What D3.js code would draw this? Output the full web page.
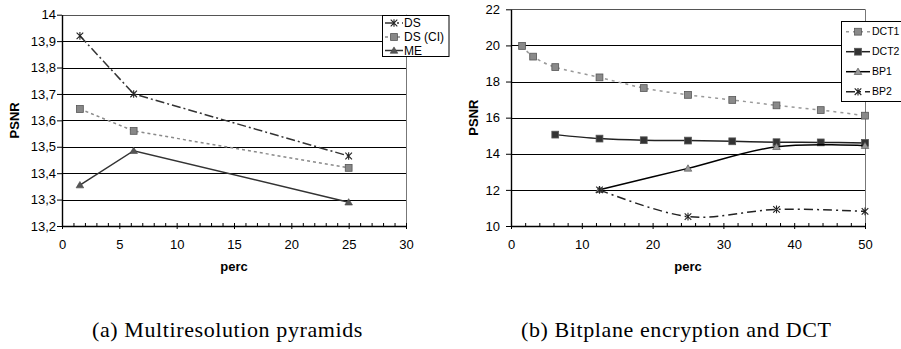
<!DOCTYPE html>
<html>
  <head>
    <meta charset="utf-8" />
    <title>PSNR vs perc</title>
    <script src="https://d3js.org/d3.v7.min.js"></script>
    <style>
        body {
            margin: 0;
            background: #fff;
        }
        text {
            font-family: "Liberation Sans", Arial, sans-serif;
        }
        .caption {
            font-family: "Liberation Serif", "Times New Roman", serif;
            font-size: 22px;
            letter-spacing: 0.6px;
        }
    </style>
  </head>
  <body>
    <svg id="chart"></svg>

    <script>
        // (a) multiresolution pyramids
        var percA = [1.5625, 6.25, 25];
        var dsA = [13.92, 13.70, 13.465];
        var dsCiA = [13.643, 13.56, 13.42];
        var meA = [13.355, 13.485, 13.29];
        var xTicksA = [0, 5, 10, 15, 20, 25, 30];
        var yTicksA = [13.2, 13.3, 13.4, 13.5, 13.6, 13.7, 13.8, 13.9, 14];

        // (b) bitplane encryption and DCT
        var percDct1 = [1.5625, 3.125, 6.25, 12.5, 18.75, 25, 31.25, 37.5, 43.75, 50];
        var dct1 = [19.97, 19.38, 18.8, 18.23, 17.64, 17.26, 16.98, 16.68, 16.42, 16.11];
        var percDct2 = [6.25, 12.5, 18.75, 25, 31.25, 37.5, 43.75, 50];
        var dct2 = [15.06, 14.84, 14.75, 14.73, 14.69, 14.64, 14.63, 14.6];
        var percBp = [12.5, 25, 37.5, 50];
        var bp1 = [12.01, 13.19, 14.39, 14.45];
        var bp2 = [12.0, 10.52, 10.92, 10.81];
        var xTicksB = [0, 10, 20, 30, 40, 50];
        var yTicksB = [10, 12, 14, 16, 18, 20, 22];

        var captions = ["(a) Multiresolution pyramids", "(b) Bitplane encryption and DCT"];

        var width = 901, height = 349;
        var svg = d3.select("#chart").attr("width", width).attr("height", height);
        var defs = svg.append("defs");

        function zip(xs, ys) {
            return xs.map(function(x, i) { return [x, ys[i]]; });
        }

        // marker drawing
        function drawMarker(g, type, x, y, color) {
            if (type == "square") {
                g.append("rect").attr("x", x - 3.4).attr("y", y - 3.4)
                    .attr("width", 6.8).attr("height", 6.8)
                    .attr("fill", color).attr("stroke", "#555").attr("stroke-width", 0.8);
            } else if (type == "triangle") {
                g.append("path")
                    .attr("d", "M" + x + "," + (y - 3.6) + "L" + (x + 3.8) + "," + (y + 2.8) + "L" + (x - 3.8) + "," + (y + 2.8) + "Z")
                    .attr("fill", color).attr("stroke", "#444").attr("stroke-width", 0.6);
            } else if (type == "star") {
                var r = 3.3;
                g.append("path")
                    .attr("d", "M" + (x - r) + "," + (y - r) + "L" + (x + r) + "," + (y + r) +
                               "M" + (x - r) + "," + (y + r) + "L" + (x + r) + "," + (y - r) +
                               "M" + x + "," + (y - r - 0.5) + "L" + x + "," + (y + r + 0.5))
                    .attr("fill", "none").attr("stroke", color).attr("stroke-width", 1.1);
            }
        }

        function drawPanel(p) {
            defs.append("clipPath").attr("id", p.id)
                .append("rect").attr("x", p.clip[0]).attr("y", 0)
                .attr("width", p.clip[1] - p.clip[0]).attr("height", height);

            var g = svg.append("g").attr("clip-path", "url(#" + p.id + ")");

            var x = d3.scaleLinear().domain(p.xDomain).range(p.xRange);
            var y = d3.scaleLinear().domain(p.yDomain).range(p.yRange);

            // gridlines
            g.append("g").selectAll("line")
                .data(p.yTicks.slice(1))
                .enter().append("line")
                .attr("x1", p.xRange[0]).attr("x2", p.xRange[1])
                .attr("y1", function(d) { return Math.round(y(d)) + 0.5; })
                .attr("y2", function(d) { return Math.round(y(d)) + 0.5; })
                .attr("stroke", function(d, i) { return i == p.yTicks.length - 2 ? "#555" : "#000"; })
                .attr("stroke-width", 1);

            // right border
            g.append("line")
                .attr("x1", Math.round(p.xRange[1]) + 0.5).attr("x2", Math.round(p.xRange[1]) + 0.5)
                .attr("y1", p.yRange[1]).attr("y2", p.yRange[0])
                .attr("stroke", "#777").attr("stroke-width", 1);

            // x axis: minor ticks inside, major ticks outside + labels
            var xMinor = d3.axisBottom(x).ticks(p.minorCount).tickSize(-3).tickFormat("");
            g.append("g")
                .attr("transform", "translate(0," + p.yRange[0] + ")")
                .call(xMinor)
                .call(function(a) { a.select(".domain").remove(); });

            var xAxis = d3.axisBottom(x).tickValues(p.xTicks).tickSize(3).tickPadding(11).tickSizeOuter(0);
            var xg = g.append("g")
                .attr("transform", "translate(0," + p.yRange[0] + ")")
                .call(xAxis);
            xg.selectAll("text").attr("font-size", 13).attr("font-family", "Liberation Sans, Arial, sans-serif");

            var yAxis = d3.axisLeft(y).tickValues(p.yTicks).tickSize(5).tickPadding(p.yPad).tickSizeOuter(0)
                .tickFormat(p.yFormat);
            var yg = g.append("g")
                .attr("transform", "translate(" + p.xRange[0] + ",0)")
                .call(yAxis);
            yg.selectAll("text").attr("font-size", 13).attr("font-family", "Liberation Sans, Arial, sans-serif");

            g.selectAll(".domain").attr("stroke", "#000").attr("stroke-width", 1.4);
            g.selectAll(".tick line").attr("stroke", "#000");

            // axis titles
            g.append("text")
                .attr("transform", "translate(" + p.yTitleX + "," + ((p.yRange[0] + p.yRange[1]) / 2) + ") rotate(-90)")
                .attr("text-anchor", "middle").attr("dy", "0.35em")
                .attr("font-size", 13).attr("font-weight", "bold")
                .text("PSNR");
            g.append("text")
                .attr("x", (p.xRange[0] + p.xRange[1]) / 2).attr("y", 271)
                .attr("text-anchor", "middle")
                .attr("font-size", 13).attr("font-weight", "bold")
                .text("perc");

            // series
            p.series.forEach(function(s) {
                var line = d3.line()
                    .x(function(d) { return x(d[0]); })
                    .y(function(d) { return y(d[1]); })
                    .curve(p.smooth ? d3.curveCardinal.tension(0) : d3.curveLinear);
                g.append("path")
                    .datum(zip(s.xs, s.ys))
                    .attr("d", line)
                    .attr("fill", "none")
                    .attr("stroke", s.color)
                    .attr("stroke-width", s.width)
                    .attr("stroke-dasharray", s.dash);
                var mg = g.append("g");
                s.xs.forEach(function(v, i) {
                    drawMarker(mg, s.marker, x(v), y(s.ys[i]), s.markerColor);
                });
            });

            // legend
            var L = p.legend;
            g.append("rect")
                .attr("x", L.x).attr("y", L.y).attr("width", L.w).attr("height", L.h)
                .attr("fill", "#fff").attr("stroke", "#000").attr("stroke-width", 1);
            p.series.forEach(function(s, i) {
                var ly = L.rows[i];
                g.append("line")
                    .attr("x1", L.line[0]).attr("x2", L.line[1])
                    .attr("y1", ly).attr("y2", ly)
                    .attr("stroke", s.color).attr("stroke-width", s.width)
                    .attr("stroke-dasharray", s.dash);
                drawMarker(g, s.marker, L.mark, ly, s.markerColor);
                g.append("text")
                    .attr("x", L.textX).attr("y", ly).attr("dy", "0.35em")
                    .attr("font-size", L.font)
                    .text(s.name);
            });

            // caption
            svg.append("text")
                .attr("class", "caption")
                .attr("x", p.captionX).attr("y", 337)
                .text(p.caption);
        }

        var commaFmt = function(d) { return d3.format(".1f")(d).replace(".", ","); };

        drawPanel({
            id: "clipA",
            clip: [0, 450],
            xDomain: [0, 30], xRange: [62, 406],
            yDomain: [13.2, 14], yRange: [226, 14.7],
            xTicks: xTicksA, yTicks: yTicksA, minorCount: 30,
            yFormat: function(d) { return d == 14 ? "14" : commaFmt(d); },
            yPad: 1, yTitleX: 14.5,
            smooth: false,
            series: [
                {name: "DS", xs: percA, ys: dsA, color: "#333", width: 1.5, dash: "9,3,2,3", marker: "star", markerColor: "#222"},
                {name: "DS (CI)", xs: percA, ys: dsCiA, color: "#8a8a8a", width: 1.5, dash: "3,3", marker: "square", markerColor: "#888"},
                {name: "ME", xs: percA, ys: meA, color: "#333", width: 1.5, dash: null, marker: "triangle", markerColor: "#555"}
            ],
            legend: {x: 382.5, y: 15.5, w: 66.5, h: 41, rows: [23, 37, 50.5], line: [385, 403], mark: 394, textX: 404, font: 12},
            caption: captions[0], captionX: 92
        });

        drawPanel({
            id: "clipB",
            clip: [450, 901],
            xDomain: [0, 50], xRange: [511, 865],
            yDomain: [10, 22], yRange: [226, 9.3],
            xTicks: xTicksB, yTicks: yTicksB, minorCount: 25,
            yFormat: d3.format("d"),
            yPad: 6, yTitleX: 473,
            smooth: true,
            series: [
                {name: "DCT1", xs: percDct1, ys: dct1, color: "#999", width: 1.5, dash: "3,4", marker: "square", markerColor: "#8a8a8a"},
                {name: "DCT2", xs: percDct2, ys: dct2, color: "#222", width: 1.5, dash: null, marker: "square", markerColor: "#333"},
                {name: "BP1", xs: percBp, ys: bp1, color: "#000", width: 1.5, dash: null, marker: "triangle", markerColor: "#999"},
                {name: "BP2", xs: percBp, ys: bp2, color: "#222", width: 1.5, dash: "9,4,2,4", marker: "star", markerColor: "#222"}
            ],
            legend: {x: 841.5, y: 21.5, w: 80, h: 80, rows: [31.7, 51.7, 71.7, 91.7], line: [846, 870], mark: 858, textX: 872, font: 10.5},
            caption: captions[1], captionX: 521
        });
    </script>
  </body>
</html>
